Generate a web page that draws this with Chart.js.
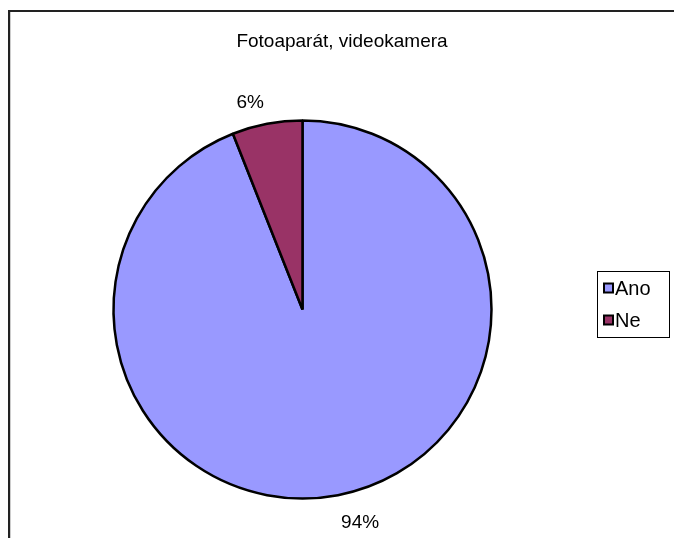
<!DOCTYPE html>
<html>
<head>
<meta charset="utf-8">
<script src="https://cdn.jsdelivr.net/npm/chart.js@4.4.1/dist/chart.umd.min.js"></script>
<style>
html,body{margin:0;padding:0;background:#fff;}
canvas{display:block;}
</style>
</head>
<body>
<canvas id="c" width="674" height="538"></canvas>
<script>
const chartTitle = "Fotoaparát, videokamera";
const categories = ["Ano", "Ne"];
const values = [94, 6];
const valueLabels = ["94%", "6%"];
const colors = ["#9999FF", "#993366"];

const FONT = "Liberation Sans, Arial, sans-serif";

const decor = {
  id: "decor",
  beforeDraw(chart) {
    const ctx = chart.ctx;
    ctx.save();
    ctx.fillStyle = "#fff";
    ctx.fillRect(0, 0, chart.width, chart.height);
    // outer frame (only top and left visible)
    ctx.fillStyle = "#222";
    ctx.fillRect(8, 10, chart.width - 8, 2);
    ctx.fillRect(8, 10, 2, chart.height - 10);
    ctx.fillStyle = "#ccc";
    ctx.fillRect(10, 12, 1, chart.height - 12);
    // title
    ctx.fillStyle = "#000";
    ctx.font = "19px " + FONT;
    ctx.textAlign = "center";
    ctx.textBaseline = "middle";
    ctx.fillText(chartTitle, 342, 42);
    ctx.restore();
  },
  afterDraw(chart) {
    const ctx = chart.ctx;
    const meta = chart.getDatasetMeta(0);
    ctx.save();
    ctx.font = "19px " + FONT;
    ctx.fillStyle = "#000";
    ctx.textAlign = "center";
    ctx.textBaseline = "middle";
    meta.data.forEach((arc, i) => {
      const p = arc.getProps(["x", "y", "startAngle", "endAngle", "outerRadius"], true);
      const mid = (p.startAngle + p.endAngle) / 2;
      const c = Math.cos(mid), s = Math.sin(mid);
      const txt = valueLabels[i];
      const w = ctx.measureText(txt).width;
      const h = 16;
      const d = p.outerRadius + 17;
      const lx = p.x + c * d + Math.sign(c) * w / 2;
      const ly = p.y + s * (d + h / 2) + 3;
      ctx.fillText(txt, lx, ly);
    });
    // legend
    const bx = 597, by = 271, bw = 72, bh = 66;
    ctx.strokeStyle = "#000";
    ctx.lineWidth = 1;
    ctx.strokeRect(bx + 0.5, by + 0.5, bw, bh);
    ctx.textAlign = "left";
    ctx.font = "20px " + FONT;
    categories.forEach((cat, i) => {
      const cy = 288 + i * 32;
      ctx.fillStyle = colors[i];
      ctx.fillRect(604, cy - 4.5, 9, 9);
      ctx.lineWidth = 2;
      ctx.strokeRect(604, cy - 4.5, 9, 9);
      ctx.fillStyle = "#000";
      ctx.fillText(cat, 615, cy + 1);
    });
    ctx.restore();
  }
};

new Chart(document.getElementById("c"), {
  type: "pie",
  data: {
    labels: categories,
    datasets: [{
      data: values,
      backgroundColor: colors,
      borderColor: "#000",
      borderWidth: 2.5,
      borderAlign: "center"
    }]
  },
  options: {
    responsive: false,
    animation: false,
    radius: 189,
    layout: { padding: { left: 113, right: 182, top: 120, bottom: 39 } },
    plugins: {
      legend: { display: false },
      title: { display: false },
      tooltip: { enabled: false }
    }
  },
  plugins: [decor]
});
</script>
</body>
</html>
